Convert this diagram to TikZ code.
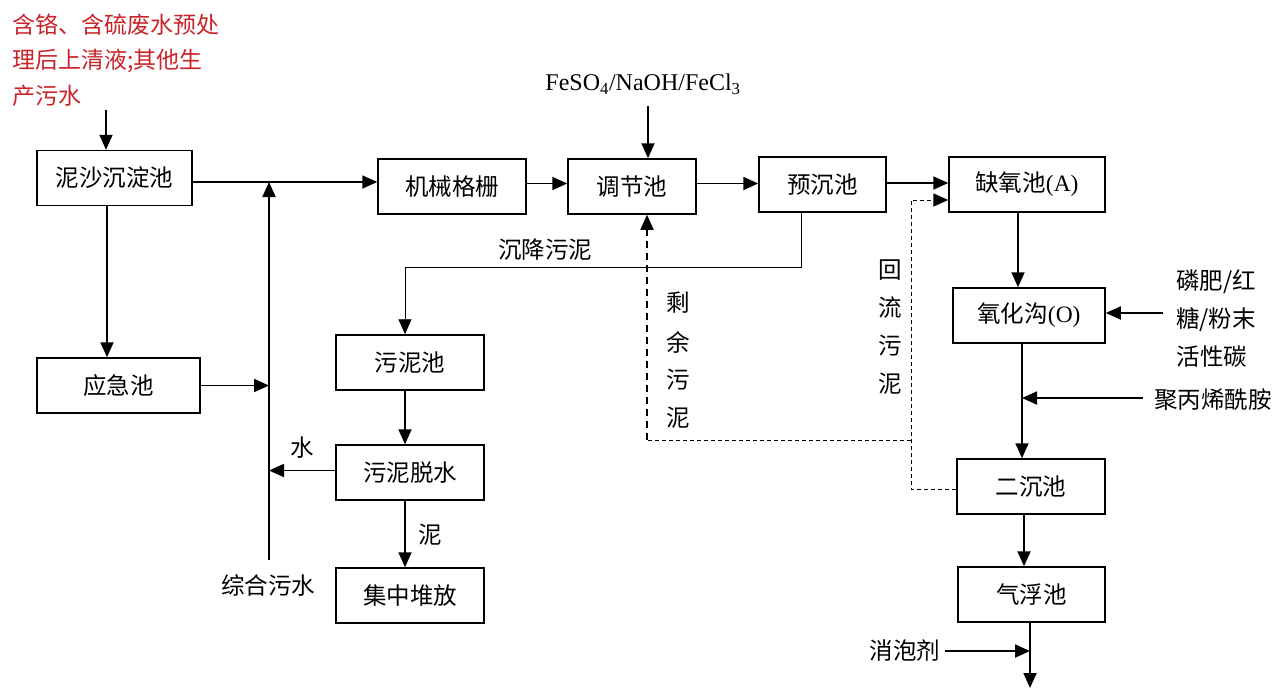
\documentclass[tikz,border=0pt]{standalone}
\usepackage{fontspec}
\setmainfont{Liberation Serif}
\newfontfamily\cjk{Noto Sans CJK SC}[Scale=1]
\usetikzlibrary{arrows.meta}
\definecolor{redtxt}{RGB}{200,35,40}
\tikzset{
  box/.style={draw, line width=1.5pt, minimum height=55pt, inner sep=0pt, font=\cjk\fontsize{23.5}{23.5}\selectfont},
  lbl/.style={inner sep=0pt, font=\cjk\fontsize{23.5}{23.5}\selectfont},
  tip/.style={-{Triangle[length=15pt,width=13pt]}},
  arr/.style={line width=1.8pt, tip},
  thinarr/.style={line width=0.9pt, tip},
  dsh/.style={line width=0.9pt, dash pattern=on 4pt off 3pt},
  dsharr/.style={line width=1.8pt, dash pattern=on 7pt off 5pt, tip},
}
\begin{document}
\begin{tikzpicture}[x=1pt,y=-1pt]
\useasboundingbox (0,0) rectangle (1276,688);
% boxes
\node[box, minimum width=155pt] (n1) at (114.5,178) {泥沙沉淀池};
\node[box, minimum width=163pt] (n2) at (118.5,385.5) {应急池};
\node[box, minimum width=148pt] (n3) at (452,186.5) {机械格栅};
\node[box, minimum width=128pt] (n4) at (632,186.5) {调节池};
\node[box, minimum width=127pt] (n5) at (822.5,184.5) {预沉池};
\node[box, minimum width=156pt] (n6) at (1027,184.5) {缺氧池\rmfamily(A)};
\node[box, minimum width=152pt] (n7) at (1029,315.5) {氧化沟\rmfamily(O)};
\node[box, minimum width=148pt] (n8) at (1031,486.5) {二沉池};
\node[box, minimum width=147pt] (n9) at (1031.5,594.5) {气浮池};
\node[box, minimum width=148pt] (n10) at (410,362.5) {污泥池};
\node[box, minimum width=148pt] (n11) at (410,472.5) {污泥脱水};
\node[box, minimum width=148pt] (n12) at (410,595.5) {集中堆放};
% text labels
\node[inner sep=0pt, font=\cjk\fontsize{23}{23}\selectfont, text=redtxt, anchor=west] (r1) at (12,25) {含铬、含硫废水预处};
\node[inner sep=0pt, font=\cjk\fontsize{23}{23}\selectfont, text=redtxt, anchor=west] (r2) at (12,60.5) {理后上清液;其他生};
\node[inner sep=0pt, font=\cjk\fontsize{23}{23}\selectfont, text=redtxt, anchor=west] (r3) at (12,96) {产污水};
\node[inner sep=0pt, font=\fontsize{24}{24}\selectfont] (fe) at (643,84) {FeSO\textsubscript{4}/NaOH/FeCl\textsubscript{3}};
\node[lbl] (lsj) at (545,250) {沉降污泥};
\node[lbl] (ls1) at (678,303) {剩};
\node[lbl] (ls2) at (678,342) {余};
\node[lbl] (ls3) at (678,380) {污};
\node[lbl] (ls4) at (678,418) {泥};
\node[lbl] (lh1) at (890,270) {回};
\node[lbl] (lh2) at (890,308) {流};
\node[lbl] (lh3) at (890,346) {污};
\node[lbl] (lh4) at (890,384) {泥};
\node[lbl] (lw) at (302,448) {水};
\node[lbl] (ln) at (430,535) {泥};
\node[lbl] (lz) at (268,586) {综合污水};
\node[lbl] (lp1) at (1216,282) {磷肥/红};
\node[lbl] (lp2) at (1216,320) {糖/粉末};
\node[lbl] (lp3) at (1212,357) {活性碳};
\node[lbl] (lj) at (1213,400) {聚丙烯酰胺};
\node[lbl] (lx) at (905,651) {消泡剂};
% coordinates
\coordinate (ra) at (106,110);
\coordinate (jb) at (269,560);
\coordinate (jt) at (269,182);
\coordinate (fa) at (648,106);
\coordinate (s1) at (801,267);
\coordinate (s2) at (405,267);
\coordinate (d1) at (911,489);
\coordinate (d2) at (911,200);
\coordinate (d3) at (911,440);
\coordinate (d4) at (647,440);
\coordinate (pa) at (1163,313);
\coordinate (ja) at (1143,398);
\coordinate (jc) at (1022,398);
\coordinate (out) at (1030,688);
\coordinate (xa) at (945,651);
\coordinate (xc) at (1030,651);
% connectors
\draw[arr] (ra) -- (ra |- n1.north);
\draw[arr] ([yshift=-4pt]n1.east) -- ([yshift=-4pt]n1.east -| n3.west);
\draw[arr] (jb) -- (jt);
\draw[arr] (n2.east) -- (n2.east -| jb);
\draw[arr] ([yshift=2pt]n11.west) -- ([yshift=2pt]n11.west -| jb);
\draw[arr] ([xshift=-7.5pt]n1.south) -- ([xshift=-7.5pt]n1.south |- n2.north);
\draw[arr] ([yshift=3pt]n3.east) -- ([yshift=3pt]n3.east -| n4.west);
\draw[arr] (fa) -- (fa |- n4.north);
\draw[arr] ([yshift=3pt]n4.east) -- ([yshift=3pt]n4.east -| n5.west);
\draw[arr] ([yshift=1.5pt]n5.east) -- ([yshift=1.5pt]n5.east -| n6.west);
\draw[thinarr] (s1 |- n5.south) -- (s1) -- (s2) -- (s2 |- n10.north);
\draw[arr] ([xshift=-5pt]n10.south) -- ([xshift=-5pt]n10.south |- n11.north);
\draw[arr] ([xshift=-5pt]n11.south) -- ([xshift=-5pt]n11.south |- n12.north);
\draw[dsh] (d1 -| n8.west) -- (d1) -- (d2) -- ([xshift=-14pt]d2 -| n6.west);
\draw[dsharr] ([xshift=-14pt]d2 -| n6.west) -- (d2 -| n6.west);
\draw[dsh] (d3) -- (d4);
\draw[dsharr] (d4) -- (d4 |- n4.south);
\draw[arr] ([xshift=-9pt]n6.south) -- ([xshift=-9pt]n6.south |- n7.north);
\draw[arr] (pa) -- (pa -| n7.east);
\draw[arr] ([xshift=-7pt]n7.south) -- ([xshift=-7pt]n7.south |- n8.north);
\draw[arr] (ja) -- (jc);
\draw[arr] ([xshift=-7pt]n8.south) -- ([xshift=-7pt]n8.south |- n9.north);
\draw[arr] ([xshift=-1.5pt]n9.south) -- (out);
\draw[arr] (xa) -- (xc);
\end{tikzpicture}
\end{document}
